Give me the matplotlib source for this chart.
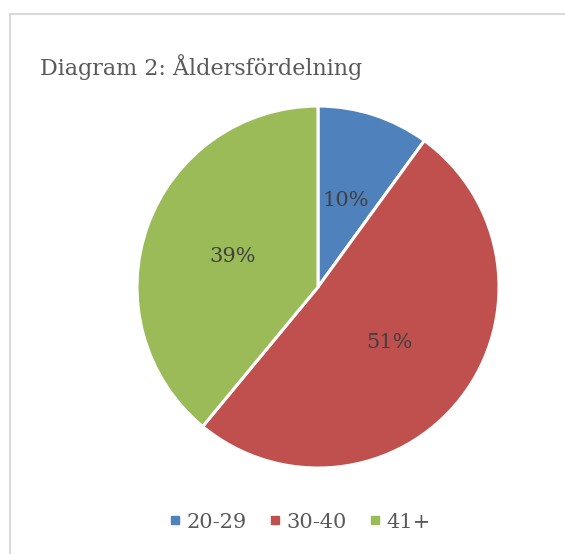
import matplotlib
matplotlib.use('Agg')
import matplotlib.pyplot as plt
from matplotlib.lines import Line2D

title = 'Diagram 2: Åldersfördelning'
categories = ['20-29', '30-40', '41+']
values = [10, 51, 39]
colors = ['#4F81BD', '#C0504D', '#9BBB59']

plt.rcParams['font.family'] = ['DejaVu Serif']

fig = plt.figure(figsize=(5.65, 5.54), dpi=100)

# chart frame (cut off at right and bottom)
border = '#d9d9d9'
fig.add_artist(Line2D([9.5 / 565, 1], [1 - 14 / 554, 1 - 14 / 554], color=border, lw=1.5))
fig.add_artist(Line2D([9.5 / 565, 9.5 / 565], [0, 1 - 14 / 554], color=border, lw=1.5))

fig.text(40 / 565, 1 - 67 / 554, title, fontsize=16, color='#595959', va='center', ha='left')

ax = fig.add_axes([0.2425, 0.1552, 0.6407, 0.6534])
wedges, texts, autotexts = ax.pie(values, colors=colors, startangle=90, counterclock=False,
                                  autopct='%1.0f%%', pctdistance=0.5, radius=1,
                                  wedgeprops=dict(edgecolor='white', linewidth=2.2),
                                  textprops=dict(fontsize=15, color='#404040'))
ax.set_xlim(-1, 1)
ax.set_ylim(-1, 1)
ax.set_aspect('equal')

handles = [Line2D([], [], marker='s', linestyle='', color=c, markersize=6) for c in colors]
fig.legend(handles, categories, loc='center', bbox_to_anchor=(0.53, 1 - 522 / 554), ncol=3,
           frameon=False, fontsize=15, labelcolor='#595959', handletextpad=0.2,
           columnspacing=1.0, handlelength=0.7)

fig.savefig('out.png', dpi=100)
